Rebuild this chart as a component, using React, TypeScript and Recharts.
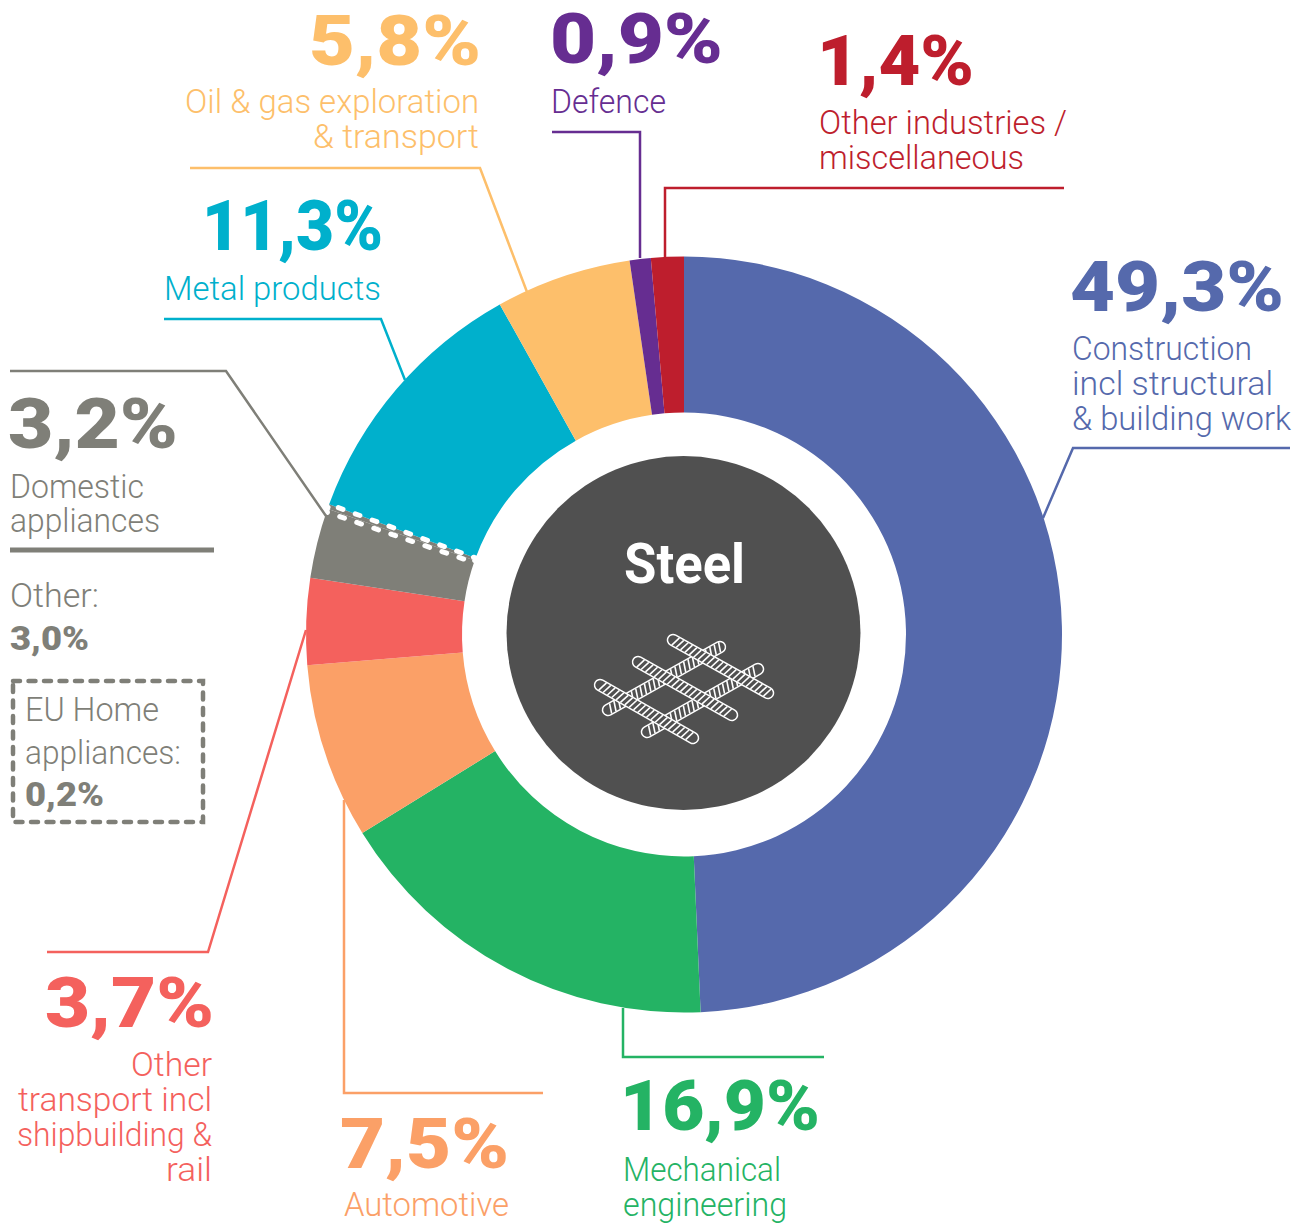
import React from 'react';
import { PieChart, Pie, Cell } from 'recharts';

// sectors run clockwise from 12 o'clock
const sectors = ['Construction', 'Mechanical engineering', 'Automotive', 'Other transport', 'Domestic other', 'EU Home appliances', 'Metal products', 'Oil & gas', 'Defence', 'Other industries'];
const shares = [49.3, 16.9, 7.5, 3.7, 3.0, 0.2, 11.3, 5.8, 0.9, 1.4];
const sectorColors = ['#5569ac', '#24b364', '#fba067', '#f4615d', '#7f7f78', '#7f7f78', '#00b0cc', '#fdbf6b', '#662d91', '#be1e2d'];

const BLUE = '#5569ac';
const GREEN = '#24b364';
const ORANGE = '#fba067';
const CORAL = '#f4615d';
const GREY = '#7f7f78';
const CYAN = '#00b0cc';
const YELLOW = '#fdbf6b';
const PURPLE = '#662d91';
const CRIMSON = '#be1e2d';

const pieData = sectors.map((name, i) => ({ name, value: shares[i] }));

// the EU sliver gets a dashed white outline, spread a little so both dashed rows show
const euIndex = sectors.indexOf('EU Home appliances');
const euEnd = shares.slice(0, euIndex + 1).reduce((a, b) => a + b, 0);
const euEndAngle = 90 - euEnd * 3.6;
const euStartAngle = euEndAngle + 1.25;
const euData = [{ name: sectors[euIndex], value: shares[euIndex] }];

// text, left, right, baseline, color
type Txt = [string, number, number, number, string];

const bigLabels: Txt[] = [
  ['5,8%', 312, 478, 65, YELLOW],
  ['0,9%', 553, 720, 63, PURPLE],
  ['1,4%', 820, 971, 85, CRIMSON],
  ['49,3%', 1073, 1281, 311, BLUE],
  ['11,3%', 205, 380, 250, CYAN],
  ['3,2%', 11, 175, 448, GREY],
  ['3,7%', 48, 211, 1027, CORAL],
  ['7,5%', 343, 506, 1168, ORANGE],
  ['16,9%', 623, 817, 1130, GREEN],
];

const smallLabels: Txt[] = [
  ['Oil & gas exploration', 186, 478, 113, YELLOW],
  ['& transport', 314, 478, 148, YELLOW],
  ['Defence', 552, 665, 113, PURPLE],
  ['Other industries /', 820, 1066, 134, CRIMSON],
  ['miscellaneous', 820, 1023, 169, CRIMSON],
  ['Construction', 1073, 1251, 360, BLUE],
  ['incl structural', 1073, 1272, 395, BLUE],
  ['& building work', 1073, 1290, 430, BLUE],
  ['Metal products', 165, 380, 300, CYAN],
  ['Domestic', 11, 143, 498, GREY],
  ['appliances', 11, 159, 532, GREY],
  ['Other:', 11, 98, 607, GREY],
  ['EU Home', 26, 158, 721, GREY],
  ['appliances:', 26, 180, 764, GREY],
  ['Other', 132, 211, 1076, CORAL],
  ['transport incl', 19, 211, 1111, CORAL],
  ['shipbuilding &', 18, 211, 1146, CORAL],
  ['rail', 167, 211, 1181, CORAL],
  ['Automotive', 345, 508, 1216, ORANGE],
  ['Mechanical', 624, 780, 1181, GREEN],
  ['engineering', 624, 786, 1216, GREEN],
];

const subLabels: Txt[] = [
  ['3,0%', 11, 88, 650, GREY],
  ['0,2%', 26, 103, 806, GREY],
];

const leaders: [string, string][] = [
  ['1290,448 1073,448 1043,518', BLUE],
  ['623,1008 623,1057 824,1057', GREEN],
  ['344,800 344,1093 543,1093', ORANGE],
  ['306,630 208,952 47,952', CORAL],
  ['326,516 226,371 10,371', GREY],
  ['405,380 381,319 164,319', CYAN],
  ['527,292 480,168 190,168', YELLOW],
  ['640,258 640,132 552,132', PURPLE],
  ['665,258 665,188 1064,188', CRIMSON],
];

const rebarsUnder = [
  [608, 710, 720, 647],
  [647, 732, 758, 669],
];
const rebarsOver = [
  [673, 640, 768, 693],
  [638, 662, 732, 715],
  [600, 685, 693, 738],
];

const FONT = "'Roboto', 'Noto Sans', sans-serif";

const Label = ({ t, size, weight, pad }: { t: Txt; size: number; weight: number; pad: number }) => (
  <text
    x={t[1] - pad}
    y={t[3]}
    fill={t[4]}
    fontSize={size}
    fontWeight={weight}
    fontFamily={FONT}
    textLength={t[2] - t[1] + pad * 2}
    lengthAdjust="spacingAndGlyphs"
  >
    {t[0]}
  </text>
);

const Rebar = ({ b }: { b: number[] }) => {
  const line = { x1: b[0], y1: b[1], x2: b[2], y2: b[3] };
  const len = Math.hypot(b[2] - b[0], b[3] - b[1]);
  const ux = (b[2] - b[0]) / len;
  const uy = (b[3] - b[1]) / len;
  const ribs: number[] = [];
  for (let d = 3; d < len; d += 5) ribs.push(d);
  return (
    <g>
      <line {...line} stroke="#fff" strokeWidth={12.5} strokeLinecap="round" />
      <line {...line} stroke="#505050" strokeWidth={9.5} strokeLinecap="round" />
      {ribs.map((d) => {
        const px = b[0] + ux * d;
        const py = b[1] + uy * d;
        return (
          <line
            key={d}
            x1={px - uy * 5 - ux * 1.6}
            y1={py + ux * 5 - uy * 1.6}
            x2={px + uy * 5 + ux * 1.6}
            y2={py - ux * 5 + uy * 1.6}
            stroke="#fff"
            strokeWidth={1.6}
          />
        );
      })}
    </g>
  );
};

export default function App() {
  return (
    <div style={{ position: 'absolute', left: 0, top: 0, width: 1301, height: 1225, background: '#fff' }}>
      <PieChart width={1301} height={1225} margin={{ top: 0, right: 0, bottom: 0, left: 0 }}>
        <Pie
          data={pieData}
          dataKey="value"
          nameKey="name"
          cx={684}
          cy={634.5}
          innerRadius={222}
          outerRadius={378}
          startAngle={90}
          endAngle={-270}
          stroke="none"
          isAnimationActive={false}
        >
          {pieData.map((d, i) => (
            <Cell key={d.name} fill={sectorColors[i]} stroke="none" />
          ))}
        </Pie>
        <Pie
          data={euData}
          dataKey="value"
          nameKey="name"
          cx={684}
          cy={634.5}
          innerRadius={222}
          outerRadius={378}
          startAngle={euStartAngle}
          endAngle={euEndAngle}
          fill="none"
          stroke="#fff"
          strokeWidth={5}
          strokeDasharray="5 13"
          strokeLinecap="round"
          isAnimationActive={false}
        />
      </PieChart>
      <svg width={1301} height={1225} style={{ position: 'absolute', left: 0, top: 0 }}>
        {leaders.map(([pts, c]) => (
          <polyline key={pts} points={pts} fill="none" stroke={c} strokeWidth={2.5} />
        ))}
        <line x1={10} y1={550} x2={214} y2={550} stroke={GREY} strokeWidth={5} />
        <rect x={13} y={681} width={190} height={141} fill="none" stroke={GREY} strokeWidth={4.5} strokeDasharray="7 8.5" strokeLinecap="round" />
        <circle cx={683.5} cy={633} r={177} fill="#505050" />
        <text x={624} y={583} fill="#fff" fontSize={55} fontWeight={700} fontFamily={FONT} textLength={121} lengthAdjust="spacingAndGlyphs">
          Steel
        </text>
        {rebarsUnder.map((b) => (
          <Rebar key={b.join()} b={b} />
        ))}
        {rebarsOver.map((b) => (
          <Rebar key={b.join()} b={b} />
        ))}
        {bigLabels.map((t) => (
          <Label key={t[0]} t={t} size={70} weight={900} pad={3} />
        ))}
        {smallLabels.map((t) => (
          <Label key={t[0]} t={t} size={33} weight={300} pad={1} />
        ))}
        {subLabels.map((t) => (
          <Label key={t[0]} t={t} size={33} weight={900} pad={1} />
        ))}
      </svg>
    </div>
  );
}
